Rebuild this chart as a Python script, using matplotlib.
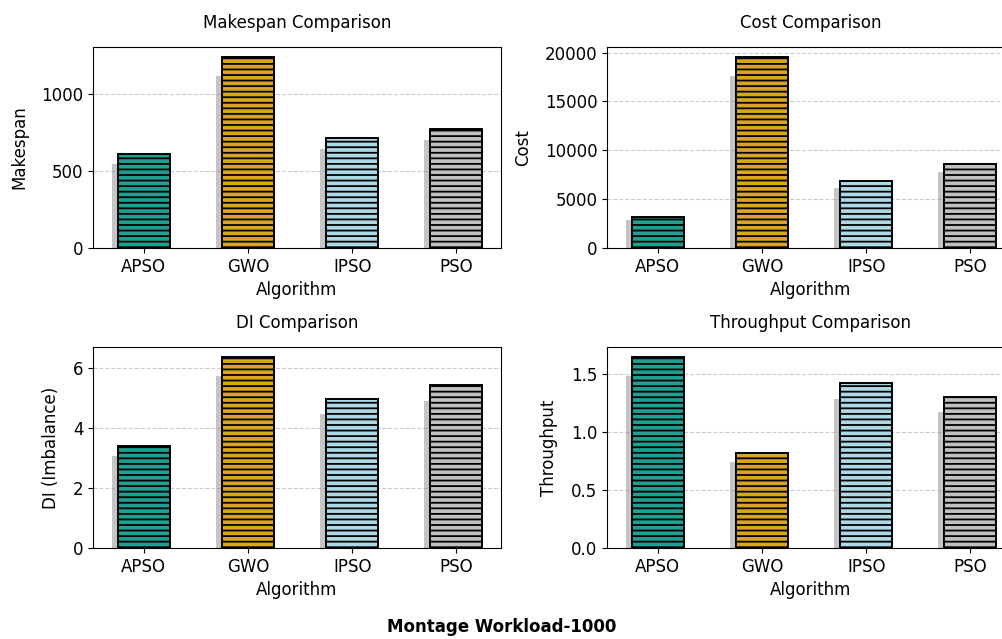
import matplotlib
matplotlib.use('Agg')
import matplotlib.pyplot as plt
from matplotlib.ticker import MultipleLocator
import numpy as np

algorithms = ['APSO', 'GWO', 'IPSO', 'PSO']
makespan = [606, 1240, 710, 774]
cost = [3180, 19590, 6870, 8615]
di = [3.40, 6.37, 4.97, 5.43]
throughput = [1.647, 0.82, 1.42, 1.30]

colors = ['#1f9e92', '#daa520', '#add8e6', '#c0c0c0']
shadow_scale = 0.9

panels = [
    (makespan, 'Makespan', 'Makespan Comparison', 500),
    (cost, 'Cost', 'Cost Comparison', 5000),
    (di, 'DI (Imbalance)', 'DI Comparison', 2),
    (throughput, 'Throughput', 'Throughput Comparison', 0.5),
]

plt.rcParams['hatch.linewidth'] = 1.3

W, H = 1003, 639
fig = plt.figure(figsize=(W / 100, H / 100), dpi=100)

# axes boxes in pixels: left, top, right, bottom (right column is cut off at the edge)
boxes = [(93, 47, 501, 248), (607, 47, 1015, 248),
         (93, 347, 501, 548), (607, 347, 1015, 548)]

x = np.arange(len(algorithms))
for (vals, ylabel, title, step), (l, t, r, b) in zip(panels, boxes):
    ax = fig.add_axes([l / W, 1 - b / H, (r - l) / W, (b - t) / H])
    vals = np.array(vals)
    ax.bar(x - 0.06, vals * shadow_scale, width=0.5, color='gray', alpha=0.45,
           zorder=1)
    ax.bar(x, vals, width=0.5, color=colors, edgecolor='black', linewidth=1.4,
           hatch='---', zorder=2)
    ax.set_xticks(x)
    ax.set_xticklabels(algorithms, fontsize=12)
    ax.yaxis.set_major_locator(MultipleLocator(step))
    ax.tick_params(axis='y', labelsize=12)
    ax.set_xlabel('Algorithm', fontsize=12)
    ax.set_ylabel(ylabel, fontsize=12, labelpad=9)
    ax.set_title(title, fontsize=12, pad=14)
    ax.yaxis.grid(True, linestyle='--', color='gray', alpha=0.4)
    ax.set_axisbelow(True)

fig.text(0.5, 1 - 627 / H, 'Montage Workload-1000', ha='center', va='center',
         fontsize=12, fontweight='bold')

plt.savefig('out.png', dpi=100)
